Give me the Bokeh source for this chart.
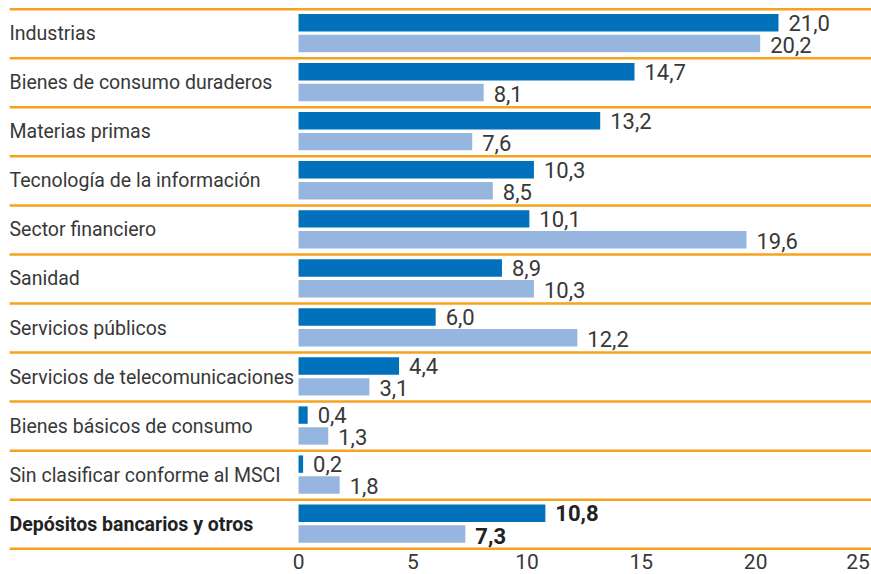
from bokeh.plotting import figure
from bokeh.models import Range1d
from bokeh.core.properties import value
from bokeh.embed import file_html
from bokeh.resources import INLINE

categories = [
    "Industrias",
    "Bienes de consumo duraderos",
    "Materias primas",
    "Tecnología de la información",
    "Sector financiero",
    "Sanidad",
    "Servicios públicos",
    "Servicios de telecomunicaciones",
    "Bienes básicos de consumo",
    "Sin clasificar conforme al MSCI",
    "Depósitos bancarios y otros",
]
series_a = [21.0, 14.7, 13.2, 10.3, 10.1, 8.9, 6.0, 4.4, 0.4, 0.2, 10.8]
series_b = [20.2, 8.1, 7.6, 8.5, 19.6, 10.3, 12.2, 3.1, 1.3, 1.8, 7.3]
x_ticks = [0, 5, 10, 15, 20, 25]
x_tick_labels = ["0", "5", "10", "15", "20", "25"]

DARK = "#0071BA"
LIGHT = "#97B6DF"
SEP = "#F5A31E"
TXT = "#383838"
FONT = value("Roboto")
FS_CAT = "19.5px"
FS_NUM = "22px"

def fmt(v):
    return f"{v:.1f}".replace(".", ",")

n = len(categories)
idx = list(range(n))
ya = [i - 0.225 for i in idx]
yb = [i + 0.2 for i in idx]

XS, XE = -13.04, 25.07
p = figure(width=871, height=574,
           x_range=Range1d(XS, XE), y_range=Range1d(11.025, -0.677),
           output_backend="svg", toolbar_location=None, min_border=0,
           x_axis_location=None, y_axis_location=None)
p.outline_line_color = None
p.grid.visible = False
p.background_fill_color = "white"

# separators
p.segment(x0=[XS + 0.4] * (n + 1), x1=[XE] * (n + 1),
          y0=[i - 0.5 for i in range(n + 1)], y1=[i - 0.5 for i in range(n + 1)],
          line_color=SEP, line_width=2.5)

# bars
p.hbar(y=ya, left=0, right=series_a, height=0.355, color=DARK, line_color=None)
p.hbar(y=yb, left=0, right=series_b, height=0.355, color=LIGHT, line_color=None)

m = n - 1
common = dict(text_baseline="middle", text_align="left", text_font=FONT)
# value labels (normal rows)
p.text(x=series_a[:m], y=ya[:m], text=[fmt(v) for v in series_a[:m]],
       x_offset=10, text_font_size=FS_NUM, text_color=TXT, **common)
p.text(x=series_b[:m], y=[y + 0.03 for y in yb[:m]], text=[fmt(v) for v in series_b[:m]],
       x_offset=10, text_font_size=FS_NUM, text_color=TXT, **common)
# bold last row
p.text(x=series_a[m:], y=ya[m:], text=[fmt(v) for v in series_a[m:]],
       x_offset=10, text_font_size=FS_NUM, text_font_style="bold", text_color="#222222", **common)
p.text(x=series_b[m:], y=[y + 0.03 for y in yb[m:]], text=[fmt(v) for v in series_b[m:]],
       x_offset=10, text_font_size=FS_NUM, text_font_style="bold", text_color="#222222", **common)

# category labels
p.text(x=[XS] * m, y=idx[:m], text=categories[:m], x_offset=9,
       text_font_size=FS_CAT, text_color=TXT, **common)
p.text(x=[XS], y=idx[m:], text=categories[m:], x_offset=9,
       text_font_size=FS_CAT, text_font_style="bold", text_color="#222222", **common)

# x tick labels
tick_y = 10.75
p.text(x=x_ticks[:-1], y=[tick_y] * (len(x_ticks) - 1), text=x_tick_labels[:-1],
       text_baseline="middle", text_align="center",
       text_font=FONT, text_font_size="21px", text_color=TXT)
p.text(x=x_ticks[-1:], y=[tick_y], text=x_tick_labels[-1:],
       text_baseline="middle", text_align="right",
       text_font=FONT, text_font_size="21px", text_color=TXT)

open("out.html", "w").write(file_html(p, INLINE))
